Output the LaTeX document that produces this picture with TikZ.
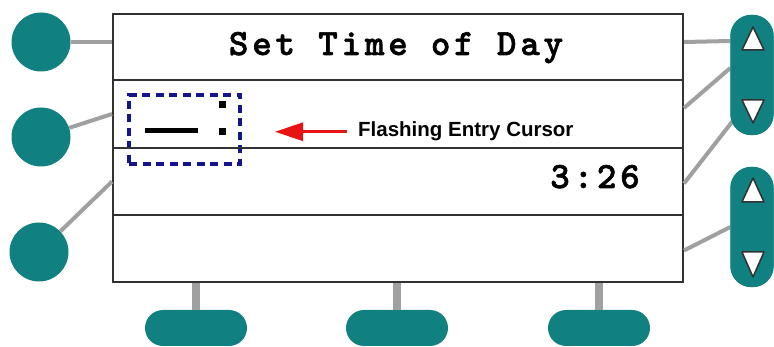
\documentclass[tikz,border=0pt]{standalone}
\usepackage{fontspec}
\newfontfamily\monofnt{lmmonolt10-bold.otf}[LetterSpace=10.5,FakeBold=1.6]
\newfontfamily\sansfnt{Liberation Sans}
\usetikzlibrary{arrows.meta,calc}
\definecolor{btnteal}{RGB}{16,128,128}
\definecolor{wire}{RGB}{160,160,160}
\definecolor{frame}{RGB}{50,50,50}
\definecolor{cursorblue}{RGB}{20,20,140}
\definecolor{arrowred}{RGB}{230,20,20}
\begin{document}
\begin{tikzpicture}[x=1pt,y=-1pt,
  row/.style={draw=frame,line width=2pt,minimum width=570pt,inner sep=0pt,anchor=north west},
  roundbtn/.style={circle,fill=btnteal,minimum size=59pt,inner sep=0pt},
  vpill/.style={rectangle,fill=btnteal,rounded corners=21pt,minimum width=43pt,minimum height=120pt,inner sep=0pt},
  hpill/.style={rectangle,fill=btnteal,rounded corners=18pt,minimum width=102pt,minimum height=36pt,inner sep=0pt},
  wireline/.style={draw=wire,line width=4pt},
  stemline/.style={draw=wire,line width=8pt},
  tri/.style={fill=white,draw=frame,line width=1.5pt,line join=round},
  lcdtext/.style={font=\monofnt\fontsize{37}{37}\selectfont,inner sep=0pt,anchor=base},
  cursorbox/.style={draw=cursorblue,line width=4pt,dash pattern=on 8pt off 5.5pt,inner sep=0pt,minimum width=111pt,minimum height=69pt,anchor=north west},
  redarrow/.style={draw=arrowred,line width=3pt,-{Triangle[length=28pt,width=18pt]}}
]
\useasboundingbox (0,0) rectangle (774,347);

% cursor box (under the row lines)
\node[cursorbox] (cur) at (127,93) {};

% screen rows
\node[row,minimum height=66pt] (row1) at (112,13) {};
\node[row,minimum height=68pt] (row2) at (112,79) {};
\node[row,minimum height=67pt] (row3) at (112,147) {};
\node[row,minimum height=67pt] (row4) at (112,214) {};

% buttons
\node[roundbtn] (L1) at (41,42) {};
\node[roundbtn] (L2) at (41,137) {};
\node[roundbtn] (L3) at (39,252) {};
\node[hpill] (B1) at (196,328) {};
\node[hpill] (B2) at (397,328) {};
\node[hpill] (B3) at (599,328) {};

% connectors
\draw[wireline] (L1) -- (L1 -| row1.west);
\draw[wireline] (L2) -- (row2.west);
\draw[wireline] (L3) -- (row3.west);
\draw[stemline] (B1.north) -- (B1.north |- row4.south);
\draw[stemline] (B2.north) -- (B2.north |- row4.south);
\draw[stemline] (B3.north) -- (B3.north |- row4.south);

\node[vpill] (R1) at (752,75) {};
\node[vpill] (R2) at (752,227) {};
\draw[wireline] ($(row1.east)+(0,-5)$) -- ($(R1.west)+(0,-34)$);
\draw[wireline] ($(row2.east)+(0,-6)$) -- ($(R1.west)+(0,-7)$);
\draw[wireline] ($(row3.east)+(0,2)$) -- ($(R1.west)+(4,44)$);
\draw[wireline] ($(row4.east)+(0,2)$) -- (R2.west);
% pills again on top of the wires
\fill[btnteal,rounded corners=21pt] (R1.south west) rectangle (R1.north east);
\fill[btnteal,rounded corners=21pt] (R2.south west) rectangle (R2.north east);

% arrows in pills
\draw[tri] (753,27) -- (764,50) -- (742,50) -- cycle;
\draw[tri] (742,100) -- (764,100) -- (753,123) -- cycle;
\draw[tri] (753,178) -- (764,202) -- (742,202) -- cycle;
\draw[tri] (742,252) -- (764,252) -- (753,277) -- cycle;

% texts
\node[lcdtext] (title) at (396,55) {Set Time of Day};
\node[lcdtext] (time) at (595,188) {3:26};

% cursor content
\draw[line width=5pt] (145,131) -- (198,131);
\fill (218.5,101.5) rectangle (225.5,108.5);
\fill (218.5,128.5) rectangle (225.5,135.5);

% label and arrow
\node[font=\sansfnt\bfseries\fontsize{20.5}{20.5}\selectfont,inner sep=0pt,anchor=base west] (lbl) at (358,137) {Flashing Entry Cursor};
\coordinate (tip) at (275,130);
\draw[redarrow,shorten <=11pt] (lbl.west) -- (tip |- lbl.west);
\end{tikzpicture}
\end{document}
